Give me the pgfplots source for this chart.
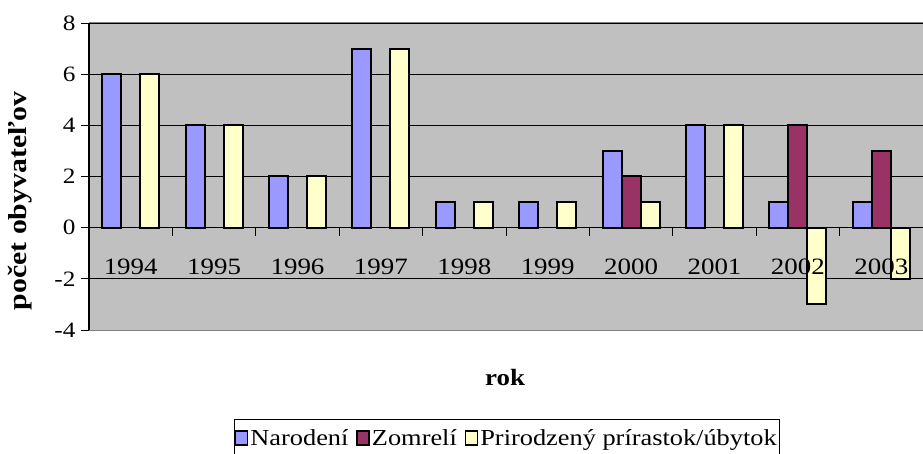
\documentclass[border=0pt]{standalone}
\usepackage{pgfplots}
\pgfplotsset{compat=1.18}
\usepackage{fontspec}
\setmainfont{Liberation Serif}[FakeStretch=1.15]
\definecolor{cblue}{HTML}{9999FF}
\definecolor{cmaroon}{HTML}{993366}
\definecolor{cyellow}{HTML}{FFFFCC}
\definecolor{cgray}{HTML}{C0C0C0}
\definecolor{cborder}{HTML}{808080}
\pgfplotsset{base/.style={
  at={(89bp,124bp)}, anchor=south west,
  scale only axis, width=834bp, height=307bp,
  xmin=-0.5, xmax=9.5, ymin=-4, ymax=8}}
\begin{document}
\begin{tikzpicture}
\useasboundingbox (0,0) rectangle (923bp,454bp);
\begin{axis}[
  base,
  axis y line*=left, axis x line*=middle,
  x axis line style={-, line width=0.8bp},
  y axis line style={-, line width=1.2bp},
  every inner x axis line/.append style={-},
  axis background/.style={fill=cgray},
  ybar=0pt, bar width=19bp,
  ytick={-4,-2,0,2,4,6,8},
  yticklabels={-4,-2,0,2,4,6,8},
  ytick align=outside, ytick style={black, line width=0.8bp},
  major tick length=8bp,
  yticklabel style={font=\fontsize{22}{22}\selectfont, xshift=-2bp},
  ymajorgrids, grid style={black, line width=0.7bp},
  xtick={0.5,1.5,2.5,3.5,4.5,5.5,6.5,7.5,8.5},
  xticklabels={},
  xtick style={draw=black, line width=0.8bp}, xtick align=outside,
  xmajorgrids=false,
  ylabel={\textbf{počet obyvateľov}},
  ylabel style={font=\fontsize{26}{26}\selectfont, at={(axis description cs:-0.083,0.42)}, anchor=center, rotate=0},
  xlabel={\textbf{rok}},
  xlabel style={font=\fontsize{23.5}{23.5}\selectfont, at={(axis description cs:0.499,-0.156)}, anchor=center},
  legend columns=-1,
  legend style={at={(axis description cs:0.501,-0.290)}, anchor=north, draw=black, fill=white, line width=0.8bp,
    font=\fontsize{23}{23}\selectfont, inner ysep=8bp, inner xsep=1bp,
    /tikz/every even column/.append style={column sep=6bp}},
  legend image code/.code={\draw[#1, line width=1.5bp] (0bp,-7bp) rectangle (12bp,7bp);},
  after end axis/.code={\draw[cborder, line width=1bp] (rel axis cs:0,0) -- (rel axis cs:1,0) -- (rel axis cs:1,1) -- (rel axis cs:0,1);},
]
\addplot[fill=cblue, draw=black, line width=2bp] coordinates {(0,6) (1,4) (2,2) (3,7) (4,1) (5,1) (6,3) (7,4) (8,1) (9,1)};
\addplot[fill=cmaroon, draw=black, line width=2bp] coordinates {(6,2) (8,4) (9,3)};
\addplot[fill=cyellow, draw=black, line width=2bp] coordinates {(0,6) (1,4) (2,2) (3,7) (4,1) (5,1) (6,1) (7,4) (8,-3) (9,-2)};
\legend{Narodení,Zomrelí,Prirodzený prírastok/úbytok}
\end{axis}
\begin{axis}[
  base,
  axis y line=none, axis x line*=middle,
  x axis line style={draw=none},
  every inner x axis line/.append style={-},
  ytick=\empty,
  xtick={0,...,9},
  xticklabels={1994,1995,1996,1997,1998,1999,2000,2001,2002,2003},
  xtick style={draw=none},
  xticklabel style={font=\fontsize{23.5}{23.5}\selectfont, yshift=-28bp},
]
\end{axis}
\end{tikzpicture}
\end{document}
